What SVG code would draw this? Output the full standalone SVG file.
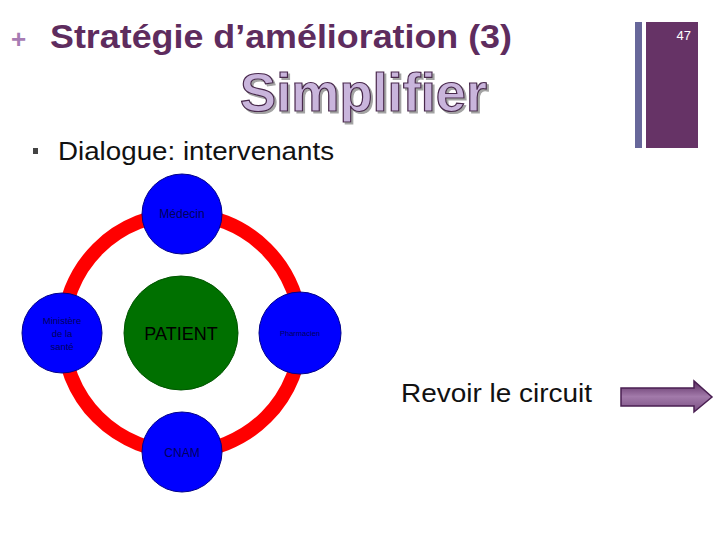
<svg xmlns="http://www.w3.org/2000/svg" width="720" height="540" viewBox="0 0 720 540">
<style>
.node{fill:#0000ff;stroke:#00008a;stroke-width:1}
.lbl{font-family:"Liberation Sans",Arial,sans-serif;fill:#000060;text-anchor:middle}
.txt{font-family:"Liberation Sans",Arial,sans-serif;fill:#111}
</style>
<defs>
<linearGradient id="ag" x1="0" y1="0" x2="0" y2="1">
<stop offset="0" stop-color="#5c2e62"/>
<stop offset="0.5" stop-color="#a27aaa"/>
<stop offset="1" stop-color="#7a4f82"/>
</linearGradient>
<filter id="sh" x="-5%" y="-20%" width="110%" height="140%">
<feDropShadow dx="2" dy="2" stdDeviation="0.6" flood-color="#999" flood-opacity="0.9"/>
</filter>
</defs>
<rect width="720" height="540" fill="#fff"/>
<rect x="635" y="22" width="7" height="126" fill="#67679a"/>
<rect x="646" y="22" width="52" height="126" fill="#663366"/>
<text x="691" y="40" font-family="Liberation Sans,Arial,sans-serif" font-size="13" fill="#fff" text-anchor="end">47</text>
<text x="11" y="48" font-family="Liberation Sans,Arial,sans-serif" font-size="26" font-weight="bold" fill="#a77bb3">+</text>
<text x="50" y="48" font-family="Liberation Sans,Arial,sans-serif" font-size="33" font-weight="bold" fill="#5e2c5e" textLength="462" lengthAdjust="spacingAndGlyphs">Stratégie d’amélioration (3)</text>
<text x="240" y="111" font-family="Liberation Sans,Arial,sans-serif" font-size="54" font-weight="bold" fill="#c9b5dc" stroke="#4a2a4e" stroke-width="1.2" textLength="247" lengthAdjust="spacingAndGlyphs" filter="url(#sh)">Simplifier</text>
<rect x="33" y="148" width="5" height="6" fill="#444"/>
<text class="txt" x="58" y="160" font-size="26" textLength="276" lengthAdjust="spacingAndGlyphs">Dialogue: intervenants</text>
<g id="connectors">
<circle cx="182" cy="333" r="119" fill="none" stroke="#ff0000" stroke-width="14"/>
</g>
<g id="patient">
<circle cx="181" cy="333" r="57" fill="#007000" stroke="#005500" stroke-width="1"/>
<text class="lbl" x="181" y="340" font-size="18" style="fill:#000">PATIENT</text>
</g>
<g id="medecin">
<circle class="node" cx="182" cy="214" r="40"/>
<text class="lbl" x="182" y="218" font-size="12">Médecin</text>
</g>
<g id="ministere">
<circle class="node" cx="62" cy="333" r="40"/>
<text class="lbl" x="62" y="324" font-size="9.5">Ministère</text>
<text class="lbl" x="62" y="337" font-size="9.5">de la</text>
<text class="lbl" x="62" y="350" font-size="9.5">santé</text>
</g>
<g id="pharmacien">
<circle class="node" cx="300" cy="333" r="41"/>
<text class="lbl" x="300" y="336" font-size="7.5">Pharmacien</text>
</g>
<g id="cnam">
<circle class="node" cx="182" cy="452" r="40"/>
<text class="lbl" x="182" y="457" font-size="12">CNAM</text>
</g>
<text class="txt" x="401" y="402" font-size="26" textLength="191" lengthAdjust="spacingAndGlyphs">Revoir le circuit</text>
<path d="M621,388 H694 V381 L712,397 L694,412 V406 H621 Z" fill="url(#ag)" stroke="#4a1f52" stroke-width="1.5"/>
</svg>
